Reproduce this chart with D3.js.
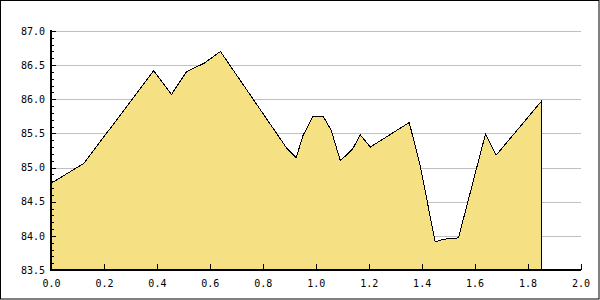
<!DOCTYPE html>
<html>
<head>
<meta charset="utf-8">
<script src="https://cdn.jsdelivr.net/npm/d3@7"></script>
<style>
  body { margin: 0; background: #fff; }
  svg { display: block; }
  text { font-family: "DejaVu Sans Mono", monospace; font-size: 10px; fill: #000; }
</style>
</head>
<body>
<script>
// values
var xValues = [0, 0.124, 0.388, 0.455, 0.511, 0.579, 0.640, 0.891, 0.926, 0.952,
  0.989, 1.029, 1.058, 1.093, 1.139, 1.168, 1.206, 1.353, 1.394, 1.451,
  1.482, 1.539, 1.641, 1.681, 1.851];
var yValues = [84.77, 85.06, 86.42, 86.07, 86.40, 86.53, 86.70, 85.28, 85.145, 85.47,
  85.745, 85.745, 85.55, 85.10, 85.27, 85.48, 85.30, 85.66, 85.04, 83.91,
  83.95, 83.97, 85.49, 85.18, 85.965];
var xTicks = [0, 0.2, 0.4, 0.6, 0.8, 1.0, 1.2, 1.4, 1.6, 1.8, 2.0];
var yTicks = [83.5, 84.0, 84.5, 85.0, 85.5, 86.0, 86.5, 87.0];
var yMinorTicks = d3.range(835, 871).map(function(d) { return d / 10; });

var data = xValues.map(function(x, i) { return { x: x, y: yValues[i] }; });

var svg = d3.select("body").append("svg")
  .attr("width", 600)
  .attr("height", 300);

// outer frame
svg.append("rect")
  .attr("x", 0.5).attr("y", 0.5)
  .attr("width", 598.5).attr("height", 298.5)
  .style("fill", "none")
  .style("stroke", "#000");

var x = d3.scaleLinear().domain([0, 2]).range([51, 580.5]);
var y = d3.scaleLinear().domain([83.5, 87]).range([270, 31]);

// gridlines
svg.append("g").selectAll("line")
  .data(yTicks.slice(1))
  .enter().append("line")
  .attr("x1", 51).attr("x2", 581)
  .attr("y1", function(d) { return Math.round(y(d)) + 0.5; })
  .attr("y2", function(d) { return Math.round(y(d)) + 0.5; })
  .style("stroke", "#c0c0c0");

// area
var area = d3.area()
  .x(function(d) { return x(d.x); })
  .y0(y(83.5))
  .y1(function(d) { return y(d.y); });

svg.append("path")
  .datum(data)
  .attr("d", area)
  .attr("shape-rendering", "crispEdges")
  .style("fill", "#f6e084")
  .style("stroke", "#000")
  .style("stroke-width", 1);

// y axis
var yAxis = d3.axisLeft(y)
  .tickValues(yTicks)
  .tickFormat(d3.format(".1f"))
  .tickSize(0)
  .tickPadding(6);
var gy = svg.append("g")
  .attr("transform", "translate(51,0)")
  .call(yAxis);
gy.select(".domain").remove();
gy.selectAll("text").style("font-family", "DejaVu Sans Mono").style("font-size", "10px");

svg.append("g").selectAll("line")
  .data(yMinorTicks)
  .enter().append("line")
  .attr("x1", 51)
  .attr("x2", function(d) { return Math.abs(d * 2 - Math.round(d * 2)) < 1e-6 ? 56 : 54; })
  .attr("y1", function(d) { return Math.round(y(d)) + 0.5; })
  .attr("y2", function(d) { return Math.round(y(d)) + 0.5; })
  .style("stroke", "#000");

// x axis
var xAxis = d3.axisBottom(x)
  .tickValues(xTicks)
  .tickFormat(d3.format(".1f"))
  .tickSize(0)
  .tickPadding(10);
var gx = svg.append("g")
  .attr("transform", "translate(0,270)")
  .call(xAxis);
gx.select(".domain").remove();
gx.selectAll("text").style("font-family", "DejaVu Sans Mono").style("font-size", "10px");

svg.append("g").selectAll("line")
  .data(xTicks)
  .enter().append("line")
  .attr("x1", function(d) { return Math.round(x(d)) + 0.5; })
  .attr("x2", function(d) { return Math.round(x(d)) + 0.5; })
  .attr("y1", 264).attr("y2", 270)
  .style("stroke", "#000");

// axis lines
svg.append("line")
  .attr("x1", 51).attr("x2", 51)
  .attr("y1", 30).attr("y2", 271)
  .style("stroke", "#000").style("stroke-width", 2);
svg.append("line")
  .attr("x1", 50).attr("x2", 581)
  .attr("y1", 270).attr("y2", 270)
  .style("stroke", "#000").style("stroke-width", 2);
</script>
</body>
</html>
